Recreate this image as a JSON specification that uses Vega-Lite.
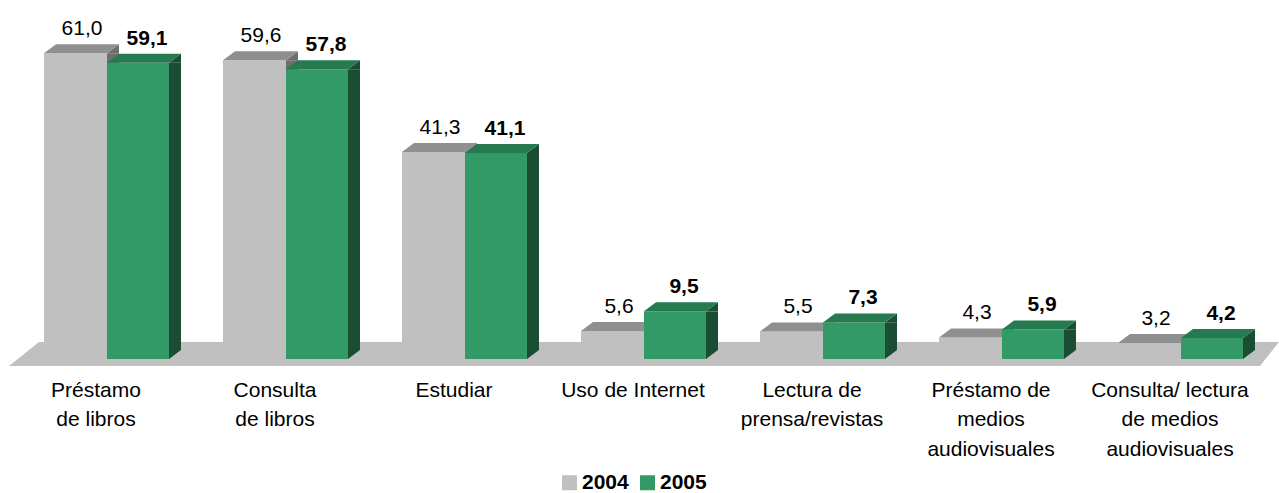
{
  "$schema": "https://vega.github.io/schema/vega-lite/v6.json",
  "autosize": "none",
  "width": 1253,
  "height": 351,
  "padding": {"left": 17.5, "top": 8, "right": 8.5, "bottom": 134},
  "background": "white",
  "config": {
    "view": {"stroke": null},
    "font": "Liberation Sans",
    "legend": {
      "orient": "none",
      "legendX": 541.5,
      "legendY": 464,
      "direction": "horizontal",
      "symbolType": "square",
      "symbolSize": 225,
      "symbolStrokeWidth": 0,
      "labelFont": "Liberation Sans",
      "labelFontSize": 21,
      "labelFontWeight": "bold",
      "labelColor": "black",
      "labelOffset": 2,
      "columnPadding": 8,
      "title": null
    }
  },
  "data": {
    "values": [
      {"cat": "Préstamo de libros", "year": "2004", "value": 61.0, "label": "61,0"},
      {"cat": "Préstamo de libros", "year": "2005", "value": 59.1, "label": "59,1"},
      {"cat": "Consulta de libros", "year": "2004", "value": 59.6, "label": "59,6"},
      {"cat": "Consulta de libros", "year": "2005", "value": 57.8, "label": "57,8"},
      {"cat": "Estudiar", "year": "2004", "value": 41.3, "label": "41,3"},
      {"cat": "Estudiar", "year": "2005", "value": 41.1, "label": "41,1"},
      {"cat": "Uso de Internet", "year": "2004", "value": 5.6, "label": "5,6"},
      {"cat": "Uso de Internet", "year": "2005", "value": 9.5, "label": "9,5"},
      {"cat": "Lectura de prensa/revistas", "year": "2004", "value": 5.5, "label": "5,5"},
      {"cat": "Lectura de prensa/revistas", "year": "2005", "value": 7.3, "label": "7,3"},
      {"cat": "Préstamo de medios audiovisuales", "year": "2004", "value": 4.3, "label": "4,3"},
      {"cat": "Préstamo de medios audiovisuales", "year": "2005", "value": 5.9, "label": "5,9"},
      {"cat": "Consulta/ lectura de medios audiovisuales", "year": "2004", "value": 3.2, "label": "3,2"},
      {"cat": "Consulta/ lectura de medios audiovisuales", "year": "2005", "value": 4.2, "label": "4,2"}
    ]
  },
  "encoding": {
    "x": {
      "field": "cat",
      "type": "nominal",
      "sort": ["Préstamo de libros", "Consulta de libros", "Estudiar", "Uso de Internet", "Lectura de prensa/revistas", "Préstamo de medios audiovisuales", "Consulta/ lectura de medios audiovisuales"],
      "scale": {"paddingInner": 0, "paddingOuter": 0, "domain": ["Préstamo de libros", "Consulta de libros", "Estudiar", "Uso de Internet", "Lectura de prensa/revistas", "Préstamo de medios audiovisuales", "Consulta/ lectura de medios audiovisuales"]},
      "axis": {
        "title": null,
        "domain": false,
        "ticks": false,
        "labelAngle": 0,
        "labelFont": "Liberation Sans",
        "labelFontSize": 21,
        "labelColor": "black",
        "labelPadding": 20,
        "labelOffset": -11,
        "labelLineHeight": 29.5,
        "labelLimit": 400,
        "labelOverlap": false,
        "labelFlush": false,
        "labelExpr": "datum.value == 'Préstamo de libros' ? ['Préstamo', 'de libros'] : datum.value == 'Consulta de libros' ? ['Consulta', 'de libros'] : datum.value == 'Lectura de prensa/revistas' ? ['Lectura de', 'prensa/revistas'] : datum.value == 'Préstamo de medios audiovisuales' ? ['Préstamo de', 'medios', 'audiovisuales'] : datum.value == 'Consulta/ lectura de medios audiovisuales' ? ['Consulta/ lectura', 'de medios', 'audiovisuales'] : datum.value"
      }
    },
    "y": {"field": "value", "type": "quantitative", "scale": {"domain": [0, 70]}, "axis": null}
  },
  "layer": [
    {
      "transform": [{"filter": "datum.cat == 'Uso de Internet' && datum.year == '2004'"}],
      "mark": {"type": "point", "shape": "M-635,7L616,7L635,-17L-605,-17Z", "size": 4, "filled": true, "color": "#c0c0c0", "strokeWidth": 0, "opacity": 1},
      "encoding": {"y": {"datum": 0, "type": "quantitative"}}
    },
    {
      "transform": [{"filter": "datum.year == '2004'"}],
      "mark": {"type": "bar", "width": 12, "xOffset": 6, "color": "#6e6e6e"}
    },
    {
      "transform": [{"filter": "datum.year == '2004'"}],
      "mark": {"type": "point", "shape": "M0,0L12,-9L12,0Z", "size": 4, "filled": true, "color": "#6e6e6e", "strokeWidth": 0, "opacity": 1}
    },
    {
      "transform": [{"filter": "datum.year == '2004'"}],
      "mark": {"type": "bar", "width": 63, "xOffset": -31.5},
      "encoding": {
        "color": {"field": "year", "type": "nominal", "scale": {"domain": ["2004", "2005"], "range": ["#c0c0c0", "#339966"]}}
      }
    },
    {
      "transform": [{"filter": "datum.year == '2004'"}],
      "mark": {"type": "point", "shape": "M-63,0L0,0L12,-9L-51,-9Z", "size": 4, "filled": true, "color": "#8f8f8f", "strokeWidth": 0, "opacity": 1}
    },
    {
      "transform": [{"filter": "datum.year == '2005'"}],
      "mark": {"type": "bar", "width": 12, "xOffset": 68, "color": "#1b4d33"}
    },
    {
      "transform": [{"filter": "datum.year == '2005'"}],
      "mark": {"type": "point", "shape": "M62,0L74,-9L74,0Z", "size": 4, "filled": true, "color": "#1b4d33", "strokeWidth": 0, "opacity": 1}
    },
    {
      "transform": [{"filter": "datum.year == '2005'"}],
      "mark": {"type": "point", "shape": "M62,0L74,-9L74,0Z", "size": 4, "filled": true, "color": "#c0c0c0", "strokeWidth": 0, "opacity": 1},
      "encoding": {"y": {"datum": 0, "type": "quantitative"}}
    },
    {
      "transform": [{"filter": "datum.year == '2005'"}],
      "mark": {"type": "bar", "width": 62, "xOffset": 31},
      "encoding": {
        "color": {"field": "year", "type": "nominal", "scale": {"domain": ["2004", "2005"], "range": ["#c0c0c0", "#339966"]}}
      }
    },
    {
      "transform": [{"filter": "datum.year == '2005'"}],
      "mark": {"type": "point", "shape": "M0,0L62,0L74,-9L12,-9Z", "size": 4, "filled": true, "color": "#267a4f", "strokeWidth": 0, "opacity": 1}
    },
    {
      "transform": [{"filter": "datum.year == '2004'"}],
      "mark": {"type": "text", "dx": -25, "dy": -18, "baseline": "alphabetic", "align": "center", "font": "Liberation Sans", "fontSize": 21, "color": "black"},
      "encoding": {"text": {"field": "label"}}
    },
    {
      "transform": [{"filter": "datum.year == '2005'"}],
      "mark": {"type": "text", "dx": 40, "dy": -18, "baseline": "alphabetic", "align": "center", "font": "Liberation Sans", "fontSize": 21, "fontWeight": "bold", "color": "black"},
      "encoding": {"text": {"field": "label"}}
    }
  ]
}
